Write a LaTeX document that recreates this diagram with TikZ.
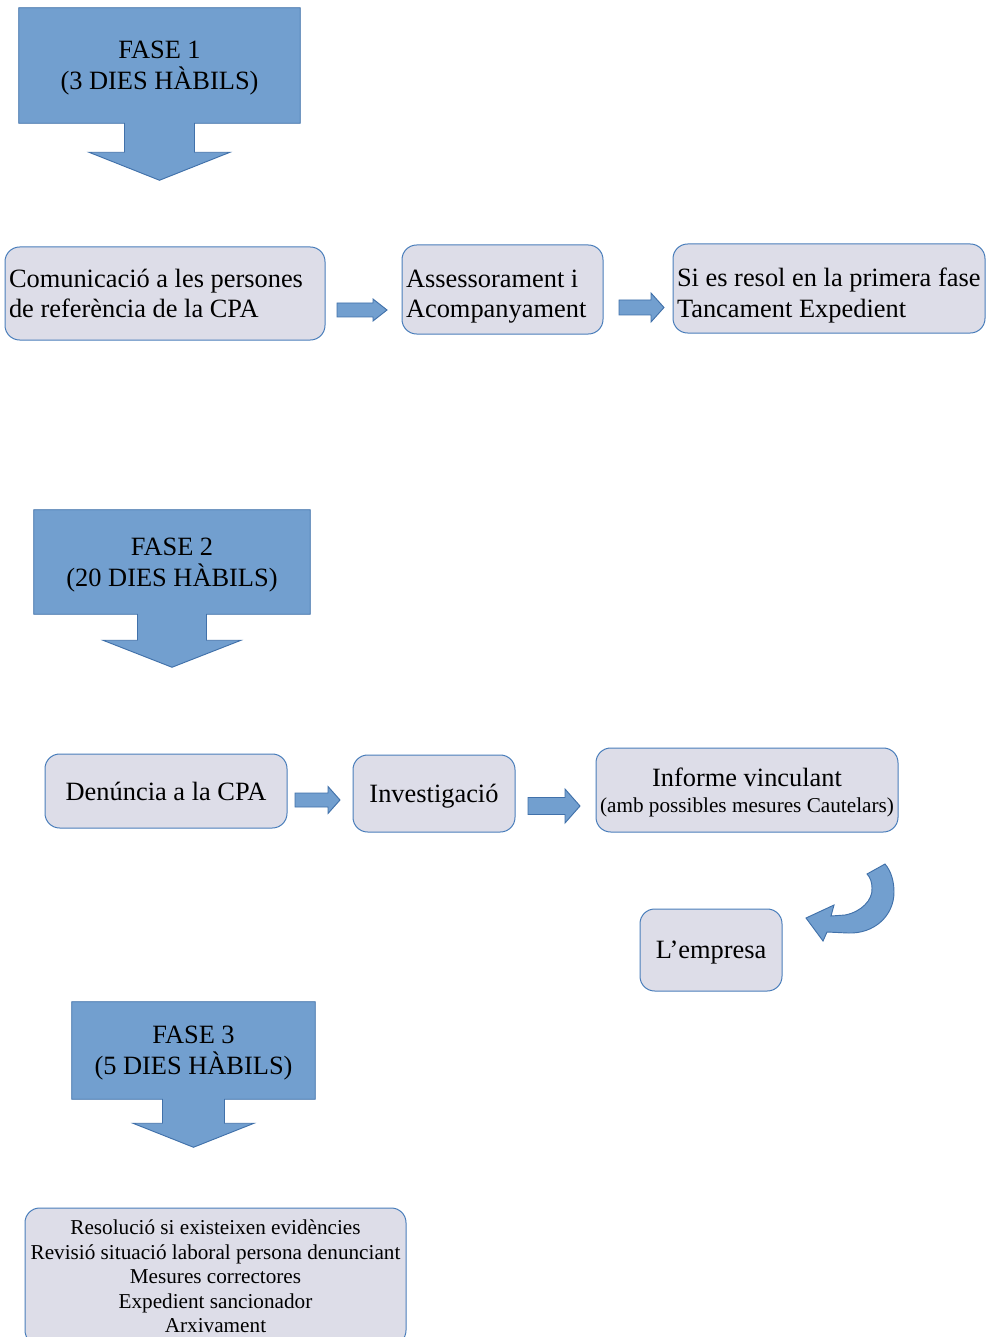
\documentclass[tikz,border=0pt]{standalone}
\usepackage{fontspec}
\setmainfont{Liberation Serif}
\usetikzlibrary{calc,backgrounds}
\definecolor{faseblue}{RGB}{114,159,207}
\definecolor{faseline}{RGB}{65,113,170}
\definecolor{boxfill}{RGB}{221,221,232}
\definecolor{boxline}{RGB}{74,126,187}

\begin{document}
\begin{tikzpicture}[x=0.75pt,y=-0.75pt,
  bigfont/.style={font=\fontsize{19.8pt}{23pt}\selectfont},
  big/.style={bigfont,text depth=0pt},
  small/.style={font=\fontsize{15.9pt}{18.4pt}\selectfont},
  wh/.style 2 args={minimum width=#1*0.75pt,minimum height=#2*0.75pt},
  fase/.style={big,align=center,inner sep=0pt},
  shapefill/.style={fill=faseblue,draw=faseline,line width=0.7pt,line join=miter},
  stepbox/.style={rounded corners=11pt,fill=boxfill,draw=boxline,line width=0.75pt,inner sep=0pt},
  leftbox/.style={stepbox,bigfont,align=flush left,inner xsep=3pt,text width=#1*0.75pt-6pt},
  lower/.style={execute at begin node={\rule{0pt}{24pt}}}]
\useasboundingbox (0,0) rectangle (987,1337);

% fases
\node[fase,wh={281}{115}] (f1) at (159.5,65.5) {FASE 1\\(3 DIES HÀBILS)};
\node[fase,wh={276}{104}] (f2) at (172,562) {FASE 2\\(20 DIES HÀBILS)};
\node[fase,wh={243}{97}] (f3) at (193.5,1050.5) {FASE 3\\(5 DIES HÀBILS)};
\begin{pgfonlayer}{background}
\foreach \n/\s/\l/\h/\t in {f1/35/29/70.5/28,f2/34.5/26/69/27,f3/31/24/60.5/24}{
  \filldraw[shapefill] (\n.north west) -- (\n.north east) -- (\n.south east)
    -- ($(\n.south)+(\s,0)$) -- ($(\n.south)+(\s,\l)$) -- ($(\n.south)+(\h,\l)$)
    -- ($(\n.south)+(0,\l+\t)$) -- ($(\n.south)+(-\h,\l)$) -- ($(\n.south)+(-\s,\l)$)
    -- ($(\n.south)+(-\s,0)$) -- (\n.south west) -- cycle;}
\end{pgfonlayer}

% fase 1
\node[leftbox=320,wh={320}{93}] (com) at (165,293.5) {Comunicació a les persones\\de referència de la CPA};
\node[leftbox=201,lower,wh={201}{89}] (ases) at (502.5,289.5) {Assessorament i\\Acompanyament};
\node[leftbox=312,lower,wh={312}{89}] (tanc) at (829,288.5) {\mbox{Si es resol en la primera fase}\\Tancament Expedient};

% fase 2
\node[stepbox,big,wh={242}{74}] (den) at (166,791) {Denúncia a la CPA};
\node[stepbox,big,wh={162}{77}] (inv) at (434,793.5) {Investigació};
\node[stepbox,big,align=center,wh={302}{84}] (inf) at (747,790) {Informe vinculant\\[-3.5pt]{\fontsize{15.9pt}{18.4pt}\selectfont (amb possibles mesures Cautelars)}};
\node[stepbox,big,wh={142}{82}] (emp) at (711,950) {L’empresa};

% fase 3
\node[stepbox,small,align=center,wh={381}{137}] (res) at (215.5,1276.5) {Resolució si existeixen evidències\\Revisió situació laboral persona denunciant\\Mesures correctores\\Expedient sancionador\\Arxivament};

% fletxes
\foreach \xa/\xb/\xc/\y/\b/\h in {337/373/387/310/7/11,619/651/664/307.5/7.5/14.5,295/328/340/800/7/13.5,528/565/580/806/8.5/17}{
  \filldraw[shapefill] (\xa,\y-\b) -- (\xb,\y-\b) -- (\xb,\y-\h) -- (\xc,\y) -- (\xb,\y+\h) -- (\xb,\y+\b) -- (\xa,\y+\b) -- cycle;}
\filldraw[shapefill] (885,864) .. controls (891,871) and (894,881) .. (894,892)
  .. controls (894,916) and (874,934) .. (848,933) -- (827,932) -- (823,941) -- (806,918)
  -- (834,905) -- (831,916) -- (845,915) .. controls (861,912) and (873,900) .. (872,888)
  .. controls (872,882) and (870,877) .. (867,874) -- cycle;
\end{tikzpicture}
\end{document}
